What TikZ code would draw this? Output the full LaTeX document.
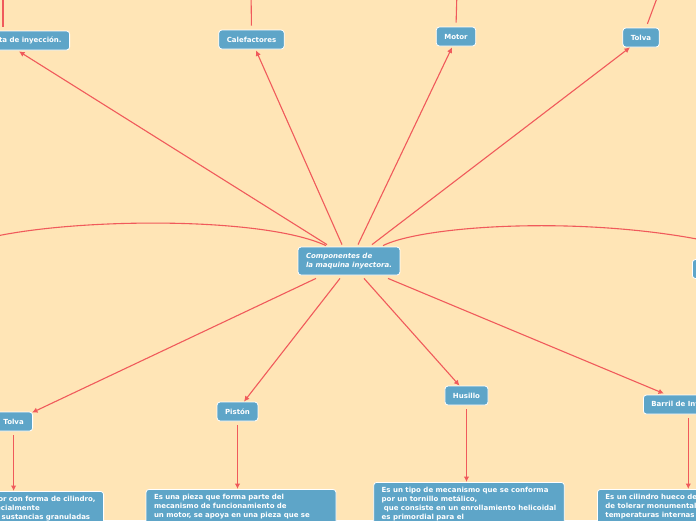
\documentclass[tikz,border=0pt]{standalone}
\usepackage{fontspec}
\setmainfont{DejaVu Sans}
\usetikzlibrary{arrows.meta,positioning}
\definecolor{paper}{HTML}{FFE5B6}
\definecolor{linkred}{HTML}{F05A5B}
\definecolor{boxblue}{HTML}{5EA5C8}

\begin{document}
\begin{tikzpicture}[
    x = 1pt, y = -1pt,
    block/.style = {rectangle, draw=white, line width=0.8pt, fill=boxblue, rounded corners=3pt, text=white, font=\fontsize{7}{9}\selectfont\bfseries, inner xsep=8pt, inner ysep=4pt, minimum height=19pt},
    main_block/.style = {block, font=\fontsize{7}{9}\selectfont\bfseries\itshape, align=left, minimum height=28pt},
    topic_block/.style = {block},
    info_block/.style = {block, align=left, inner ysep=5pt},
    arrow/.style = {linkred, line width=1.1pt, -{Latex[length=5.5pt,width=5.5pt]}},
    link/.style = {linkred, line width=1.1pt}
]
\useasboundingbox (0,0) rectangle (696,520);
\fill [paper] (0,0) rectangle (696,520);
\clip (0,0) rectangle (696,520);

% Centre
\node [main_block] (maquina) at (349,261) {Componentes de\\la maquina inyectora.};

% Top row
\node [topic_block, anchor=east] (punta) at (70,40.5) {Boquilla o punta de inyección.};
\node [topic_block] (calef) at (251.5,39.5) {Calefactores};
\node [topic_block] (motor) at (456,36.5) {Motor};
\node [topic_block] (tolvaA) at (641,37.5) {Tolva};
\node [topic_block, anchor=west, minimum width=60pt] (cierre) at (692,269) {};

% Bottom row
\node [topic_block, anchor=east, minimum width=38pt] (tolvaB) at (33,421.5) {Tolva};
\node [topic_block] (piston) at (237.5,411.5) {Pistón};
\node [topic_block] (husillo) at (466.5,395.5) {Husillo};
\node [topic_block, anchor=west] (barril) at (643,404.5) {Barril de Inyección};

% Descriptions
\node [info_block, anchor=north east] (tolvaInfo) at (104,491) {Es un contenedor con forma de cilindro,\\construido especialmente\\para almacenar sustancias granuladas};
\node [info_block, anchor=north, text width=174pt] (pistonInfo) at (241,489) {Es una pieza que forma parte del\\mecanismo de funcionamiento de\\un motor, se apoya en una pieza que se};
\node [info_block, anchor=north] (husilloInfo) at (469,482) {Es un tipo de mecanismo que se conforma\\por un tornillo metálico,\\\hspace{0.3em}que consiste en un enrollamiento helicoidal\\es primordial para el};
\node [info_block, anchor=north west] (barrilInfo) at (597,489) {Es un cilindro hueco de acero capaz\\de tolerar monumentales presiones y\\temperaturas internas muy elevadas};

% Free ends outside the frame
\coordinate (puntaUp) at (3,-10);
\coordinate (calefUp) at (251,-10);
\coordinate (motorUp) at (457,-10);
\coordinate (tolvaUp) at (660,-10);
\coordinate (leftEnd) at (-20,240);
\coordinate (rightEnd) at (770,258);

% Arrows from the centre
\draw [arrow] ([xshift=-22pt,yshift=2pt]maquina.north) -- ([xshift=-51pt,yshift=-1pt]punta.south east);
\draw [arrow] ([xshift=-7pt,yshift=2pt]maquina.north) -- ([xshift=4.5pt,yshift=-1pt]calef.south);
\draw [arrow] ([xshift=9pt,yshift=2pt]maquina.north) -- ([xshift=-4pt,yshift=-1pt]motor.south);
\draw [arrow] ([xshift=23pt,yshift=2pt]maquina.north) -- ([xshift=-11pt]tolvaA.south);
\draw [arrow] ([xshift=-33pt,yshift=-3pt]maquina.south) -- ([xshift=-1pt,yshift=-1pt]tolvaB.north east);
\draw [arrow] ([xshift=-9pt,yshift=-3pt]maquina.south) -- ([xshift=6.5pt]piston.north);
\draw [arrow] ([xshift=15pt,yshift=-3pt]maquina.south) -- ([xshift=-7pt]husillo.north);
\draw [arrow] ([xshift=39pt,yshift=-3pt]maquina.south) -- ([xshift=21pt,yshift=1pt]barril.north west);

% Curved links to the sides
\draw [link] ([xshift=-23pt,yshift=1pt]maquina.north) .. controls (260,215) and (60,218) .. (leftEnd);
\draw [link] ([xshift=34pt,yshift=1pt]maquina.north) .. controls (430,222) and (640,212) .. (rightEnd);

% Links leaving the top
\draw [link, shorten <=4pt] (puntaUp |- punta.north) -- (puntaUp);
\draw [link, shorten <=4pt] (calef.north) -- (calefUp);
\draw [link, shorten <=4pt] (motor.north) -- (motorUp);
\draw [link, shorten <=4pt] ([xshift=5pt]tolvaA.north) -- (tolvaUp);

% Arrows to the descriptions
\draw [arrow, shorten <=4pt] (tolvaB.south) -- (tolvaB.south |- tolvaInfo.north);
\draw [arrow, shorten <=4pt] (piston.south) -- (piston.south |- pistonInfo.north);
\draw [arrow, shorten <=4pt] (husillo.south) -- (husillo.south |- husilloInfo.north);
\draw [arrow, shorten <=4pt] (barril.south) -- (barril.south |- barrilInfo.north);

\end{tikzpicture}
\end{document}
